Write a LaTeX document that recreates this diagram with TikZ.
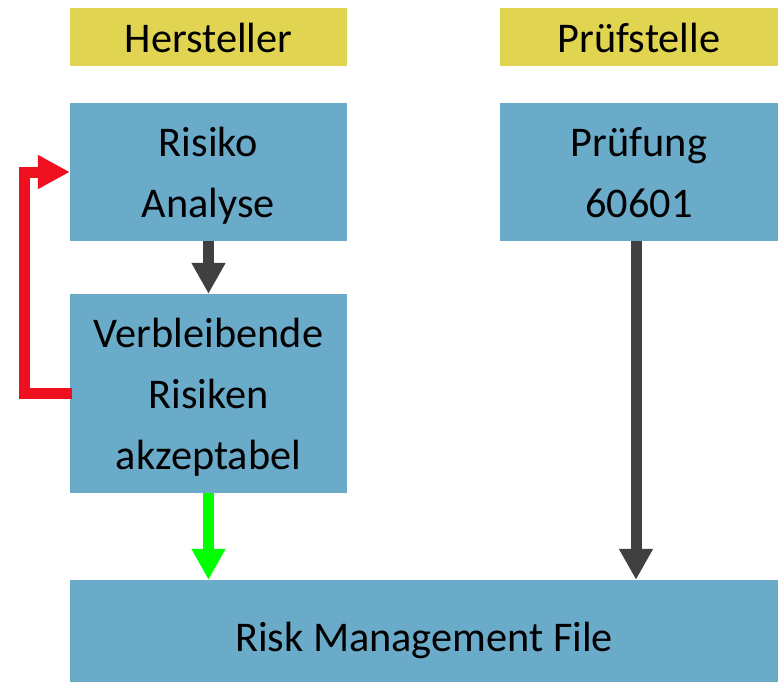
\documentclass[tikz,border=0pt]{standalone}
\usepackage{fontspec}
\setmainfont{Carlito}
\usetikzlibrary{arrows.meta}
\definecolor{boxblue}{HTML}{6AABCA}
\definecolor{headyellow}{HTML}{E1D451}
\definecolor{arrgray}{HTML}{404040}
\definecolor{arrgreen}{HTML}{00FF00}
\definecolor{arrred}{HTML}{EE0F1F}
\newcommand\strl[1]{\rule[-0.25em]{0pt}{1.22em}#1}
\tikzset{
  box/.style={fill=boxblue, inner sep=0pt, align=center, font=\fontsize{42.3}{61}\selectfont},
  head/.style={fill=headyellow, inner sep=0pt, align=center, font=\fontsize{42.3}{61}\selectfont},
  fatarrow/.style={line width=11pt, -{Triangle[width=32pt,length=31pt]}},
}
\begin{document}
\begin{tikzpicture}[x=1pt,y=-1pt]
\useasboundingbox (0,0) rectangle (778,682);
\node[head, minimum width=277pt, minimum height=58pt] (hs) at (208.5,37) {\strl{Hersteller}};
\node[head, minimum width=278pt, minimum height=58pt] (ps) at (639,37) {\strl{Prüfstelle}};
\node[box, minimum width=277pt, minimum height=138pt] (ra) at (208.5,172) {\strl{Risiko}\\\strl{Analyse}};
\node[box, minimum width=278pt, minimum height=138pt] (pr) at (639,172) {\strl{Prüfung}\\\strl{60601}};
\node[box, minimum width=277pt, minimum height=199pt] (vr) at (208.5,393.5) {\strl{Verbleibende}\\\strl{Risiken}\\\strl{akzeptabel}};
\node[box, minimum width=708pt, minimum height=102pt] (rmf) at (424,631) {\rule[-0.25em]{0pt}{1.45em}Risk Management File};
\draw[fatarrow, arrgray] (ra.south) -- (vr.north);
\draw[fatarrow, arrgreen] (vr.south) -- (vr.south |- rmf.north);
\draw[fatarrow, arrgray] ([xshift=-3pt]pr.south) -- ([xshift=-3pt]pr.south |- rmf.north);
\draw[fatarrow, arrred, -{Triangle[width=32pt,length=32pt]}] ([xshift=2pt]vr.west) -- ++(-47,0) |- (ra.west);
\end{tikzpicture}
\end{document}
